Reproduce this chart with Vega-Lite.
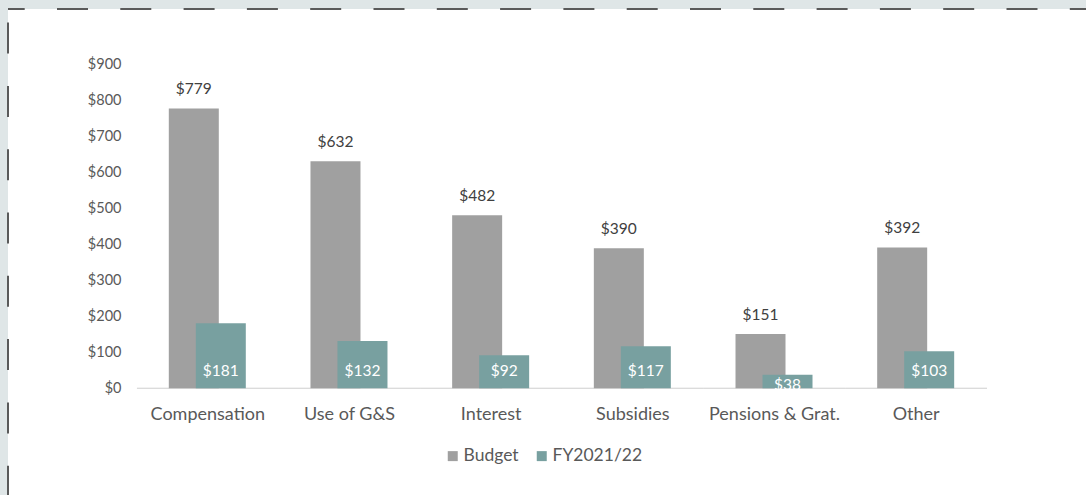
{
  "$schema": "https://vega.github.io/schema/vega-lite/v6.json",
  "width": 1079,
  "height": 487,
  "autosize": {"type": "none"},
  "padding": {"left": 8, "top": 9, "right": -1, "bottom": -1},
  "background": "#dfe6e7",
  "config": {
    "font": "Lato",
    "view": {"fill": "#ffffff", "stroke": "#5a5a5a", "strokeWidth": 2, "strokeDash": [31, 32.3], "strokeDashOffset": 14.3}
  },
  "data": {
    "values": [
      {"category": "Compensation", "series": "Budget", "value": 779},
      {"category": "Use of G&S", "series": "Budget", "value": 632},
      {"category": "Interest", "series": "Budget", "value": 482},
      {"category": "Subsidies", "series": "Budget", "value": 390},
      {"category": "Pensions & Grat.", "series": "Budget", "value": 151},
      {"category": "Other", "series": "Budget", "value": 392},
      {"category": "Compensation", "series": "FY2021/22", "value": 181},
      {"category": "Use of G&S", "series": "FY2021/22", "value": 132},
      {"category": "Interest", "series": "FY2021/22", "value": 92},
      {"category": "Subsidies", "series": "FY2021/22", "value": 117},
      {"category": "Pensions & Grat.", "series": "FY2021/22", "value": 38},
      {"category": "Other", "series": "FY2021/22", "value": 103}
    ]
  },
  "encoding": {
    "x": {
      "field": "category",
      "type": "nominal",
      "sort": null,
      "scale": {"paddingInner": 0, "paddingOuter": 0.808, "align": 0.5633},
      "axis": {
        "title": null,
        "orient": "bottom",
        "offset": -107.7,
        "domain": false,
        "ticks": false,
        "grid": false,
        "labelAngle": 0,
        "labelFontSize": 18,
        "labelColor": "#595959",
        "labelPadding": 17
      }
    }
  },
  "layer": [
    {
      "transform": [{"filter": "datum.series == 'Budget'"}],
      "mark": {"type": "bar", "stroke": "#d9d9d9", "strokeWidth": 1, "fill": null},
      "encoding": {
        "y": {"datum": 0, "type": "quantitative"},
        "y2": {"datum": 0}
      }
    },
    {
      "transform": [{"filter": "datum.series == 'Budget'"}],
      "mark": {"type": "bar", "width": 50, "xOffset": -14},
      "encoding": {
        "y": {
          "field": "value",
          "type": "quantitative",
          "scale": {"domain": [-299.7, 1055.7], "nice": false, "zero": false},
          "axis": {
            "title": null,
            "orient": "left",
            "offset": -113,
            "values": [0, 100, 200, 300, 400, 500, 600, 700, 800, 900],
            "labelExpr": "'$' + datum.value",
            "domain": false,
            "ticks": false,
            "grid": false,
            "labelPadding": 0,
            "labelFontSize": 14.5,
            "labelColor": "#595959"
          }
        },
        "color": {
          "field": "series",
          "type": "nominal",
          "scale": {"domain": ["Budget", "FY2021/22"], "range": ["#a0a0a0", "#78a0a0"]},
          "legend": {
            "title": null,
            "orient": "none",
            "direction": "horizontal",
            "legendX": 436,
            "legendY": 438,
            "symbolType": "square",
            "symbolSize": 100,
            "symbolStrokeWidth": 0,
            "labelFontSize": 17.5,
            "labelColor": "#595959",
            "labelOffset": 2,
            "columnPadding": 14,
            "padding": 0
          }
        }
      }
    },
    {
      "transform": [{"filter": "datum.series == 'FY2021/22'"}],
      "mark": {"type": "bar", "width": 50, "xOffset": 13},
      "encoding": {
        "y": {"field": "value", "type": "quantitative"},
        "color": {"field": "series", "type": "nominal"}
      }
    },
    {
      "transform": [{"filter": "datum.series == 'Budget'"}],
      "mark": {"type": "text", "xOffset": -14, "dy": -14, "baseline": "alphabetic", "fontSize": 15.5, "color": "#404040"},
      "encoding": {
        "y": {"field": "value", "type": "quantitative"},
        "text": {"field": "value", "type": "quantitative", "format": "$d"}
      }
    },
    {
      "transform": [{"filter": "datum.series == 'FY2021/22' && datum.value >= 50"}],
      "mark": {"type": "text", "xOffset": 13, "dy": -12.5, "baseline": "alphabetic", "fontSize": 15.5, "color": "#ffffff"},
      "encoding": {
        "y": {"datum": 0, "type": "quantitative"},
        "text": {"field": "value", "type": "quantitative", "format": "$d"}
      }
    },
    {
      "transform": [{"filter": "datum.series == 'FY2021/22' && datum.value < 50"}],
      "mark": {"type": "text", "xOffset": 13, "dy": 1.5, "baseline": "alphabetic", "fontSize": 15.5, "color": "#ffffff"},
      "encoding": {
        "y": {"datum": 0, "type": "quantitative"},
        "text": {"field": "value", "type": "quantitative", "format": "$d"}
      }
    }
  ]
}
